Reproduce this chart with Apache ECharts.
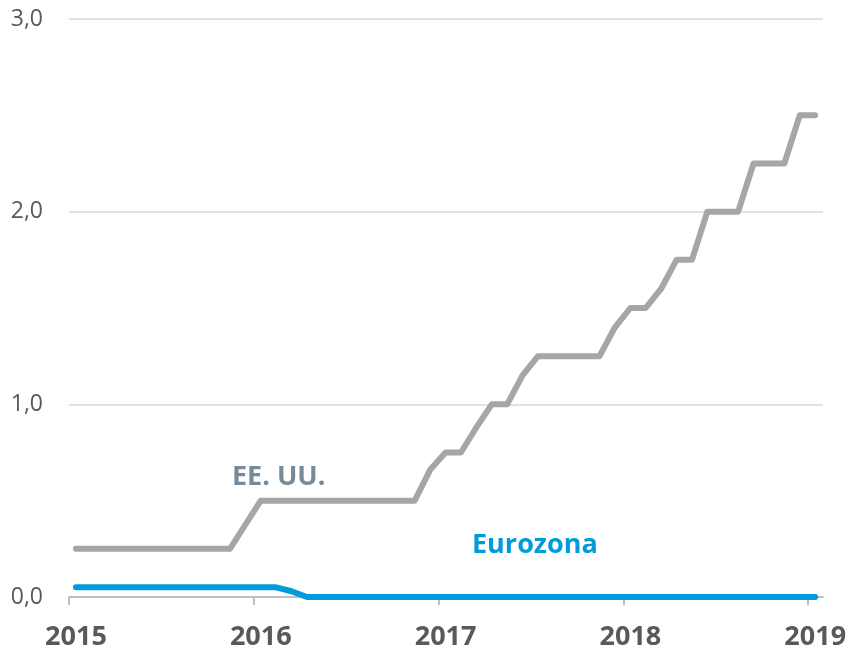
<!DOCTYPE html>
<html>
<head>
<meta charset="utf-8">
<style>
  html, body { margin: 0; padding: 0; background: #fff; }
  #chart { width: 850px; height: 651px; }
</style>
<script src="https://cdn.jsdelivr.net/npm/echarts@6/dist/echarts.min.js"></script>
</head>
<body>
<div id="chart"></div>
<script>
// meses de ene-2015 a ene-2019 (dato a mitad de mes)
const anios = [2015, 2016, 2017, 2018, 2019]
const meses = []
for (let a = 2015; a <= 2019; a++) {
    for (let m = 1; m <= 12; m++) {
        if (a === 2019 && m > 1) break
        meses.push(a + '-' + String(m).padStart(2, '0'))
    }
}

// tipo de interés oficial, %
const eeuu = [
    0.25, 0.25, 0.25, 0.25, 0.25, 0.25, 0.25, 0.25, 0.25, 0.25, 0.25, 0.375,
    0.5, 0.5, 0.5, 0.5, 0.5, 0.5, 0.5, 0.5, 0.5, 0.5, 0.5, 0.66,
    0.75, 0.75, 0.88, 1.0, 1.0, 1.15, 1.25, 1.25, 1.25, 1.25, 1.25, 1.4,
    1.5, 1.5, 1.6, 1.75, 1.75, 2.0, 2.0, 2.0, 2.25, 2.25, 2.25, 2.5,
    2.5
]
const eurozona = [
    0.05, 0.05, 0.05, 0.05, 0.05, 0.05, 0.05, 0.05, 0.05, 0.05, 0.05, 0.05,
    0.05, 0.05, 0.03, 0, 0, 0, 0, 0, 0, 0, 0, 0,
    0, 0, 0, 0, 0, 0, 0, 0, 0, 0, 0, 0,
    0, 0, 0, 0, 0, 0, 0, 0, 0, 0, 0, 0,
    0
]

const yTicks = [0, 1, 2, 3]

// 'aaaa-mm' -> año decimal, a mitad de mes
const aDecimal = s => {
    const [a, m] = s.split('-').map(Number)
    return a + (m - 1 + 0.45) / 12
}

const chart = echarts.init(document.getElementById('chart'))
const fuente = '"Open Sans", sans-serif'

const option = {
    animation: false,
    grid: { left: 69, right: 27, top: 19, bottom: 53 },
    xAxis: {
        type: 'value',
        min: 2015,
        max: 2019.08,
        axisLine: { lineStyle: { color: '#bfbfbf', width: 2 } },
        axisTick: {
            show: true,
            customValues: anios,
            length: 8,
            lineStyle: { color: '#bfbfbf', width: 2 }
        },
        axisLabel: {
            customValues: anios,
            formatter: v => String(v),
            color: '#595959',
            fontFamily: fuente,
            fontWeight: 'bold',
            fontSize: 27,
            margin: 27,
            padding: [0, 0, 0, 14]
        },
        splitLine: { show: false }
    },
    yAxis: {
        type: 'value',
        min: yTicks[0],
        max: yTicks[yTicks.length - 1],
        interval: 1,
        axisLine: { show: false },
        axisTick: { show: false },
        axisLabel: {
            formatter: v => v.toFixed(1).replace('.', ','),
            color: '#595959',
            fontFamily: fuente,
            fontSize: 23,
            margin: 26
        },
        splitLine: { lineStyle: { color: '#d9d9d9', width: 1.5 } }
    },
    series: [
        {
            name: 'EE. UU.',
            type: 'line',
            data: meses.map((m, i) => [aDecimal(m), eeuu[i]]),
            showSymbol: false,
            lineStyle: { color: '#a6a6a6', width: 6, cap: 'round', join: 'round' }
        },
        {
            name: 'Eurozona',
            type: 'line',
            data: meses.map((m, i) => [aDecimal(m), eurozona[i]]),
            showSymbol: false,
            z: 5,
            lineStyle: { color: '#009cda', width: 6, cap: 'round', join: 'round' }
        }
    ],
    graphic: [
        {
            type: 'text',
            left: 232,
            top: 464,
            style: {
                text: 'EE. UU.',
                fill: '#778a97',
                font: 'bold 27px ' + fuente
            }
        },
        {
            type: 'text',
            left: 472,
            top: 532,
            style: {
                text: 'Eurozona',
                fill: '#009cda',
                font: 'bold 27px ' + fuente
            }
        }
    ]
}

chart.setOption(option)
</script>
</body>
</html>
